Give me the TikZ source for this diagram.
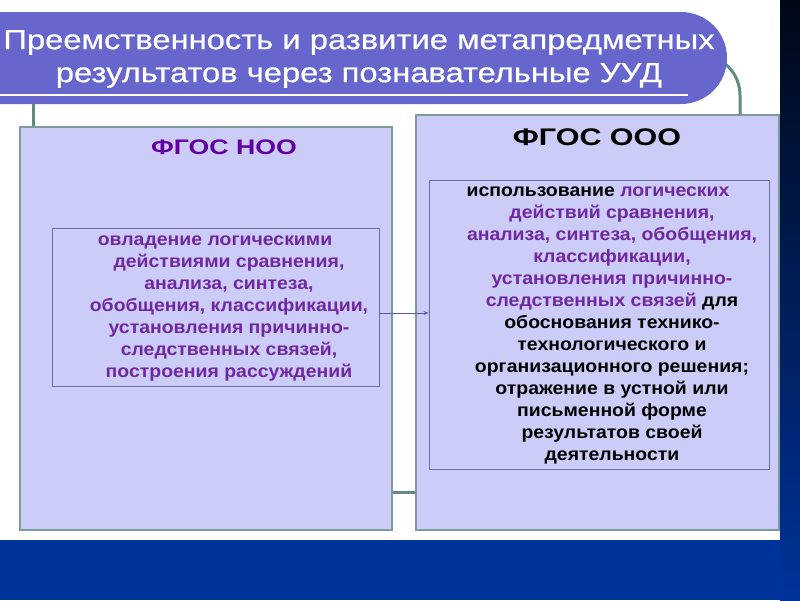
\documentclass[tikz,border=0pt]{standalone}
\usepackage{fontspec}
\setmainfont{Liberation Sans}
\newfontfamily\bannerfont[FakeStretch=1.19,FakeBold=0.6]{Liberation Sans}
\newfontfamily\boxfont[FakeStretch=1.08]{Liberation Sans}
\newfontfamily\headfont[FakeStretch=1.27]{Liberation Sans}
\usetikzlibrary{arrows.meta}
\definecolor{bannerblue}{RGB}{102,102,204}
\definecolor{boxfill}{RGB}{204,204,248}
\definecolor{boxline}{RGB}{125,155,155}
\definecolor{linkgreen}{RGB}{95,140,130}
\definecolor{innerline}{RGB}{110,110,160}
\definecolor{titlepurple}{RGB}{96,0,160}
\definecolor{txtpurple}{RGB}{112,40,160}
\definecolor{navy}{RGB}{0,51,153}

\begin{document}
\begin{tikzpicture}[x=1pt,y=-1pt,
    bigbox/.style={draw=boxline,line width=1.2pt,fill=boxfill,inner sep=0pt},
    innerbox/.style={draw=innerline,line width=0.9pt,inner sep=0pt},
    inntext/.style={align=center,font=\boxfont\bfseries\fontsize{18}{22}\selectfont},
    headtext/.style={font=\headfont\bfseries\fontsize{#1}{#1}\selectfont},
    link/.style={draw=linkgreen,line width=3pt},
    arr/.style={draw=gray!70!blue,line width=0.8pt,-{Stealth[length=5pt,width=4pt]}}]
    \useasboundingbox (0,0) rectangle (800,600);
    % background
    \fill[navy] (0,0) rectangle (800,600);
    \shade[top color=black!85!navy,bottom color=navy] (780,0) rectangle (800,600);
    \fill[white] (0,0) rectangle (780,540);

    \node[bigbox,minimum width=372pt,minimum height=403pt] (noo) at (206,328.5) {};
    \node[bigbox,minimum width=363pt,minimum height=415pt] (ooo) at (597.5,322.5) {};

    \draw[link] (ooo.north -| 740,0) -- (740,95) arc[start angle=0,end angle=-62,radius=40];
    \node[fill=bannerblue,rounded corners=46pt,minimum width=787pt,minimum height=92pt] (banner) at (333.5,58) {};
    \draw[link] (banner.south -| 33,0) -- (noo.north -| 33,0);
    \draw[link] (noo.east |- 0,492) -- (ooo.west |- 0,492);
    \draw[white,line width=1.8pt] (0,95) -- (688,95);
    \node[text=white,align=center,font=\bannerfont\fontsize{27.5}{33}\selectfont] (ttl) at (359,59)
        {Преемственность и развитие метапредметных\\ результатов через познавательные УУД};

    \node[headtext=21,text=titlepurple] (noot) at (224,147) {ФГОС НОО};
    \node[headtext=24] (ooot) at (597,137) {ФГОС ООО};

    \node[innerbox,minimum width=327pt,minimum height=158pt] (nooin) at (215.5,307) {};
    \node[innerbox,minimum width=340pt,minimum height=289pt] (oooin) at (599,324.5) {};

    \node[inntext,text=txtpurple] (noox) at (229,308.5) {овладение логическими\hspace*{28pt}\\
        действиями сравнения,\\ анализа, синтеза,\\ обобщения, классификации,\\
        установления причинно-\\ следственных связей,\\ построения рассуждений};
    \node[inntext,text=txtpurple] (ooox) at (612,325.5) {\textcolor{black}{использование} логических\hspace*{28pt}\\
        действий сравнения,\\ анализа, синтеза, обобщения,\\ классификации,\\
        установления причинно-\\ следственных связей \textcolor{black}{для}\\
        \color{black}обоснования технико-\\ \color{black}технологического и\\
        \color{black}организационного решения;\\ \color{black}отражение в устной или\\
        \color{black}письменной форме\\ \color{black}результатов своей\\ \color{black}деятельности};

    \draw[arr] (nooin.east |- 0,313) -- (oooin.west |- 0,313);
\end{tikzpicture}
\end{document}
